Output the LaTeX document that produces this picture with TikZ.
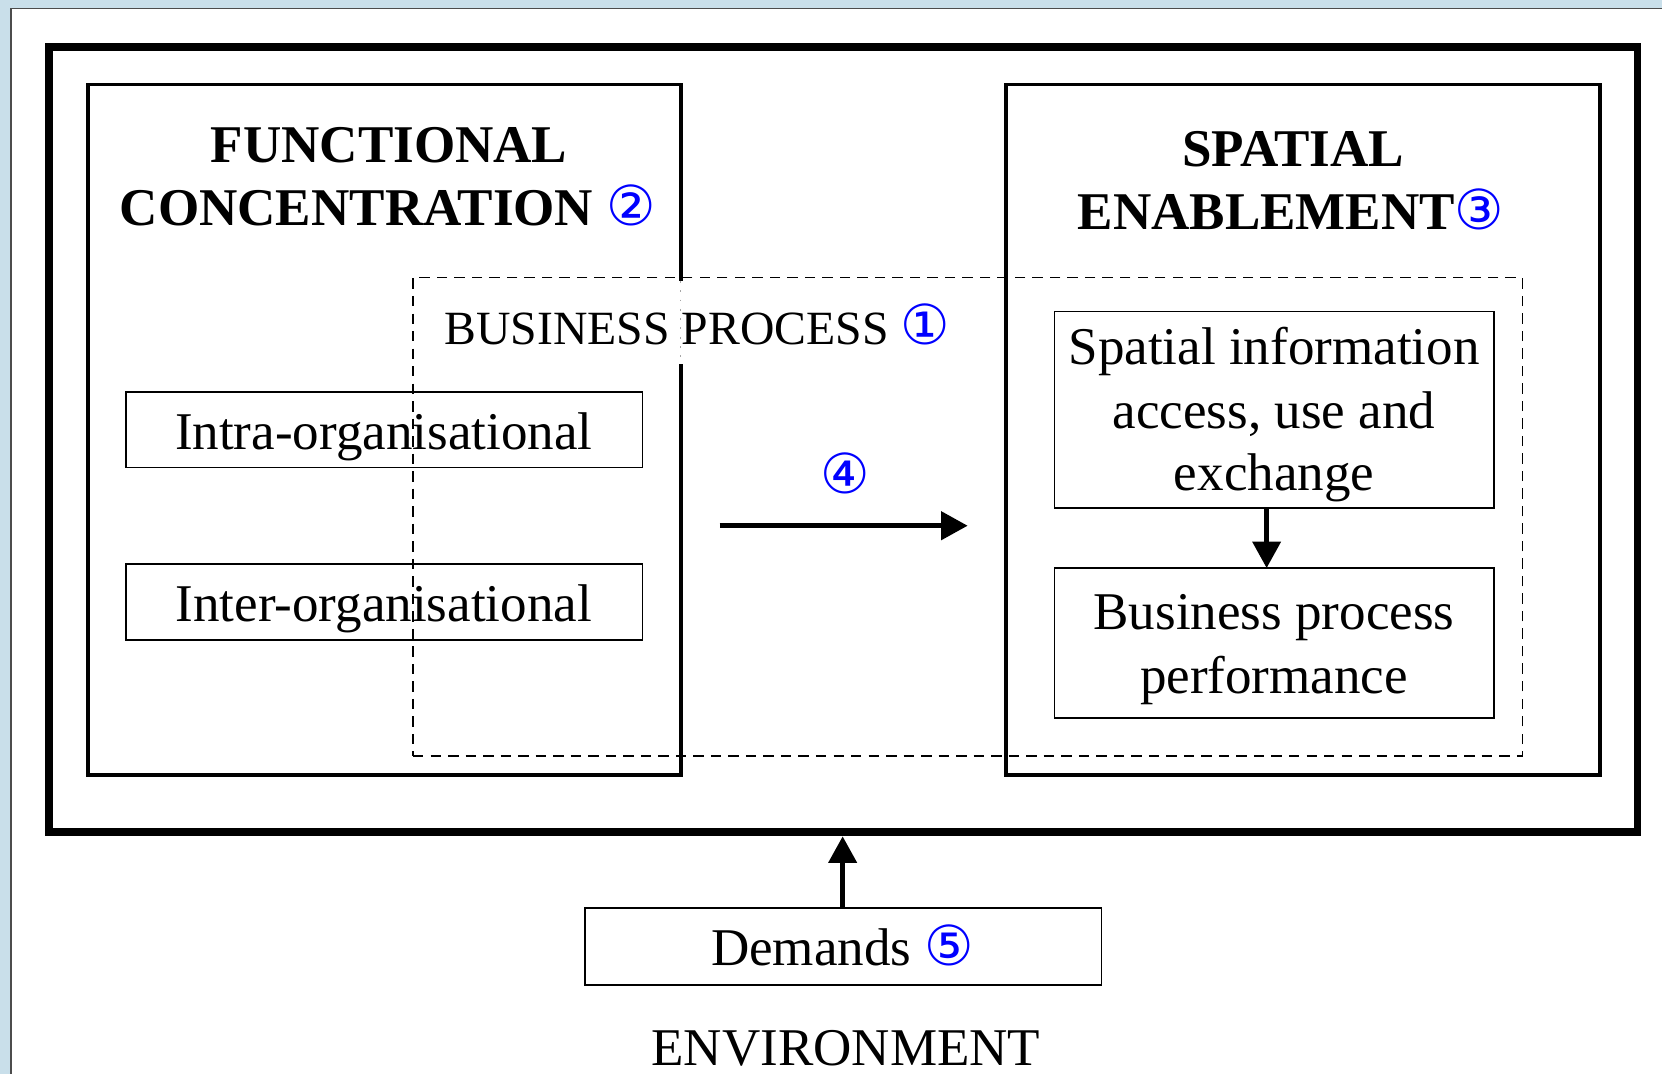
\documentclass[tikz,border=0pt]{standalone}
\usepackage{fontspec}
\setmainfont{Liberation Serif}
\newfontfamily\circfont{DejaVu Sans}
\usetikzlibrary{arrows.meta}
\definecolor{bgblue}{HTML}{C9DFEA}
\definecolor{numblue}{HTML}{0000FF}
\newcommand{\cnum}[1]{{\fontsize{14.8}{17}\circfont\mdseries\color{numblue}#1}}
\begin{document}
\begin{tikzpicture}[x=0.01cm,y=-0.01cm,
  outerframe/.style={draw, line width=2.05pt, inner sep=0pt},
  mainbox/.style={draw, line width=1pt, inner sep=0pt},
  thinbox/.style={draw, line width=0.5pt, inner sep=0pt},
  procbox/.style={draw, line width=0.45pt, dash pattern=on 2.8pt off 1.9pt, inner sep=0pt},
  txt/.style={inner sep=0pt, anchor=base, font=\fontsize{14.23}{17.07}\selectfont},
  boldtxt/.style={inner sep=0pt, anchor=base, font=\fontsize{14.23}{17.07}\selectfont\bfseries},
  smalltxt/.style={inner sep=0pt, anchor=base, font=\fontsize{12.8}{15.4}\selectfont},
  flow/.style={line width=1.4pt, -{Triangle[length=0.25cm,width=0.26cm]}}
]
\useasboundingbox (0,0) rectangle (1568,1013);
% background and paper
\fill[bgblue] (0,0) rectangle (1568,1013);
\fill[white] (10.5,8) rectangle (1570,1015);
\draw[line width=0.5pt, black!70] (10.5,1015) -- (10.5,8) -- (1570,8);

% frames
\node[outerframe, minimum width=14.978cm, minimum height=7.402cm] (env) at (795.6,414.9) {};
\node[mainbox, minimum width=5.59cm, minimum height=6.51cm] (fc) at (362.5,405.5) {};
\node[mainbox, minimum width=5.60cm, minimum height=6.51cm] (se) at (1229,405.5) {};
\fill[white] (638,265) rectangle (646,343);
\draw[black!35, dotted, line width=0.5pt] (642,265) -- (642,343);
\node[procbox, minimum width=10.46cm, minimum height=4.51cm] (bp) at (913,487.5) {};

% inner boxes
\node[thinbox, minimum width=4.87cm, minimum height=0.71cm] (intra) at (362.5,405.5) {};
\node[thinbox, minimum width=4.87cm, minimum height=0.72cm] (inter) at (362.5,568) {};
\node[thinbox, minimum width=4.14cm, minimum height=1.85cm] (sia) at (1202,386.5) {};
\node[thinbox, minimum width=4.14cm, minimum height=1.41cm] (bpp) at (1202,606.5) {};
\node[thinbox, minimum width=4.87cm, minimum height=0.72cm] (dem) at (795.5,893) {};

% titles
\node[boldtxt] (fctA) at (367,153) {FUNCTIONAL};
\node[boldtxt] (fctB) at (366,213) {CONCENTRATION \cnum{②}};
\node[boldtxt] (seA) at (1220,157) {SPATIAL};
\node[boldtxt] (seB) at (1218,217) {ENABLEMENT\cnum{③}};
\node[smalltxt] (bpT) at (658,325) {BUSINESS PROCESS \cnum{①}};

% box texts
\node[txt] (intraT) at (362,424) {Intra-organisational};
\node[txt] (interT) at (362,586) {Inter-organisational};
\node[txt] (siaA) at (1202,344) {Spatial information};
\node[txt] (siaB) at (1202,404) {access, use and};
\node[txt] (siaC) at (1202,463) {exchange};
\node[txt] (bppA) at (1202,594) {Business process};
\node[txt] (bppB) at (1202,654) {performance};
\node[txt] (demT) at (795,911) {Demands \cnum{⑤}};
\node[txt] (envT) at (798,1005) {ENVIRONMENT};
\node[txt, anchor=center] (n4) at (797,447) {\cnum{④}};

% connectors
\coordinate (hA) at (679,496);
\coordinate (hB) at (913,496);
\draw[flow] (hA) -- (hB);
\coordinate (dA) at (1195,479);
\coordinate (dB) at (1195,536);
\draw[flow] (dA) -- (dB);
\coordinate (uA) at (795,857);
\coordinate (uB) at (795,789);
\draw[flow] (uA) -- (uB);
\end{tikzpicture}
\end{document}
